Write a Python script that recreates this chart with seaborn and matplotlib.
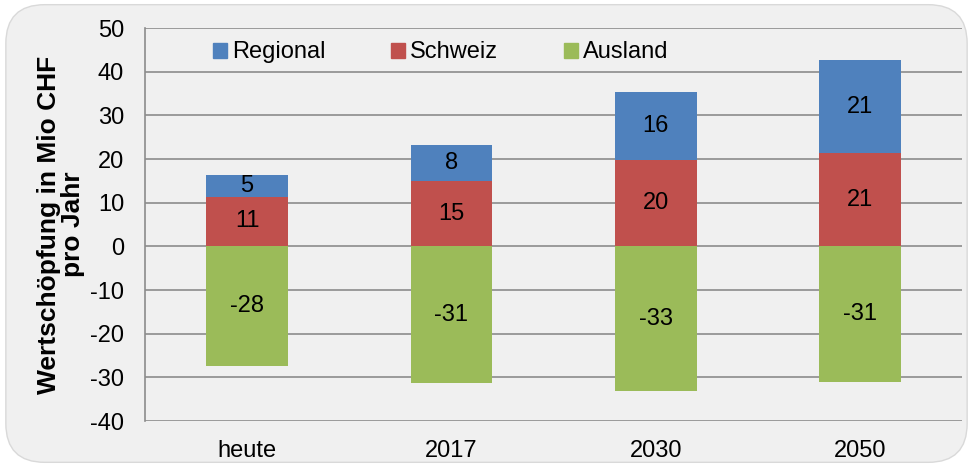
import numpy as np
import pandas as pd
import matplotlib
matplotlib.use("Agg")
import matplotlib.pyplot as plt
from matplotlib.patches import FancyBboxPatch, Patch
import seaborn as sns

# Daten (Mio CHF pro Jahr)
kategorien = ["heute", "2017", "2030", "2050"]
regional = [4.9, 8.4, 15.6, 21.3]
schweiz = [11.4, 14.9, 19.7, 21.3]
ausland = [-27.5, -31.4, -33.2, -31.1]

df = pd.DataFrame({"Jahr": kategorien, "Regional": regional,
                   "Schweiz": schweiz, "Ausland": ausland})

sns.set_style("white")
plt.rcParams['font.family'] = ['Liberation Sans', 'DejaVu Sans']
plt.rcParams['axes.unicode_minus'] = False
plt.rcParams['text.color'] = 'black'
plt.rcParams['axes.labelcolor'] = 'black'
plt.rcParams['xtick.labelcolor'] = 'black'
plt.rcParams['ytick.labelcolor'] = 'black'

farben = {"Regional": "#4f81bd", "Schweiz": "#c0504d", "Ausland": "#9bbb59"}
bg = "#f0f0f0"
fs = 17

fig = plt.figure(figsize=(9.73, 4.67), dpi=100)
fig.patch.set_facecolor("white")
rahmen = FancyBboxPatch((0.006, 0.01), 0.988, 0.98,
                        boxstyle="round,pad=0,rounding_size=0.04",
                        transform=fig.transFigure, facecolor=bg,
                        edgecolor="#d9d9d9", linewidth=1, mutation_aspect=2.08,
                        zorder=-5)
fig.patches.append(rahmen)

ax = fig.add_axes([0.149, 0.0985, 0.84, 0.8415])
ax.patch.set_alpha(0)

# gestapelte Balken
sns.barplot(data=df, x="Jahr", y="Ausland", order=kategorien, color=farben["Ausland"],
            width=0.4, saturation=1, linewidth=0, ax=ax, zorder=3)
sns.barplot(data=df, x="Jahr", y="Schweiz", order=kategorien, color=farben["Schweiz"],
            width=0.4, saturation=1, linewidth=0, ax=ax, zorder=3)
sns.barplot(data=df, x="Jahr", y="Regional", order=kategorien, color=farben["Regional"],
            width=0.4, saturation=1, linewidth=0, bottom=np.array(schweiz), ax=ax, zorder=3)

for cont, werte in zip(ax.containers, [ausland, schweiz, regional]):
    ax.bar_label(cont, labels=[f"{w:.0f}" for w in werte], label_type="center",
                 fontsize=fs, color="black")

ax.set_ylim(-40, 50)
ax.set_yticks(range(-40, 51, 10))
ax.set_xlim(-0.5, 3.5)
ax.grid(axis="y", color="#8c8c8c", linewidth=1.2, zorder=0)
ax.set_axisbelow(True)
for s in ["top", "right", "bottom"]:
    ax.spines[s].set_visible(False)
ax.spines["left"].set_color("#8c8c8c")
ax.spines["left"].set_linewidth(1.2)

ax.tick_params(axis="y", labelsize=fs, length=6, color="#8c8c8c", width=1.2, pad=9)
ax.tick_params(axis="x", which="major", labelsize=fs, length=0, pad=14)
ax.set_xticks([-0.5, 0.5, 1.5, 2.5, 3.5], minor=True)
ax.tick_params(axis="x", which="minor", length=6, color="#8c8c8c", width=1.2)

ax.set_xlabel("")
ax.set_ylabel("Wertschöpfung in Mio CHF\npro Jahr", fontsize=19, fontweight="bold",
              labelpad=4, linespacing=1.0, color="black")

handles = [Patch(color=farben[k]) for k in ["Regional", "Schweiz", "Ausland"]]
ax.legend(handles, ["Regional", "Schweiz", "Ausland"], ncol=3, frameon=False,
          loc="upper left", bbox_to_anchor=(0.057, 1.02), fontsize=fs,
          handlelength=0.6, handleheight=0.6, handletextpad=0.2, columnspacing=2.8)

fig.savefig("out.png", dpi=100, facecolor=fig.get_facecolor())
